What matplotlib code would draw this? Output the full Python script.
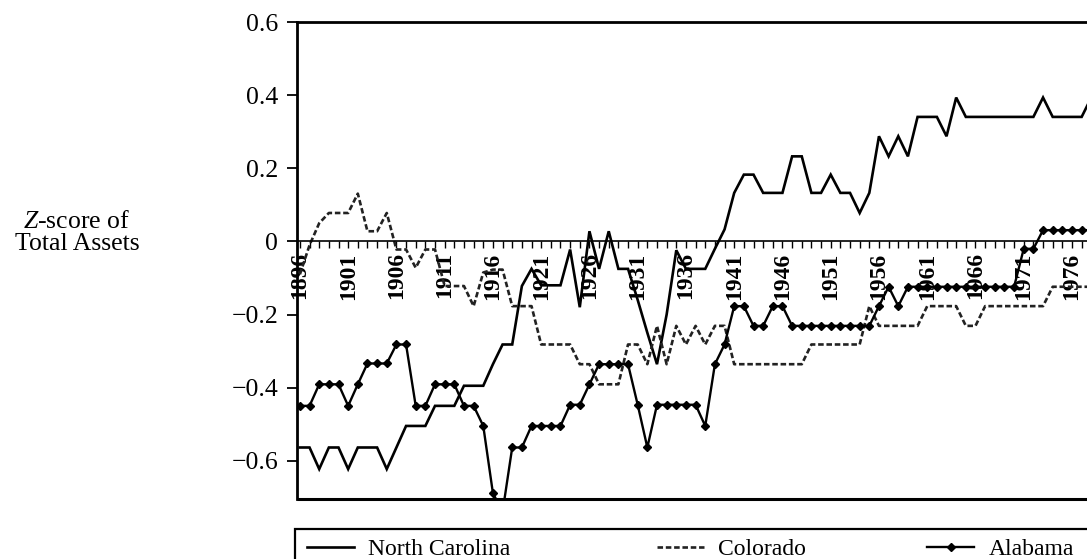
import matplotlib
matplotlib.use("Agg")
import matplotlib.pyplot as plt
import matplotlib.patches as mpatches
from matplotlib.ticker import FixedLocator, MultipleLocator

plt.rcParams['font.family'] = ['Liberation Serif', 'DejaVu Serif']
plt.rcParams['mathtext.fontset'] = 'custom'
plt.rcParams['mathtext.rm'] = 'Liberation Serif'
plt.rcParams['mathtext.it'] = 'Liberation Serif:italic'

# ---------------- data ----------------
years = list(range(1896, 1979))

north_carolina = [
    -0.564, -0.564, -0.623, -0.564, -0.564, -0.623, -0.564, -0.564, -0.564, -0.623,  # 1896-1905
    -0.564, -0.505, -0.505, -0.505, -0.450, -0.450, -0.450, -0.395, -0.395, -0.395,  # 1906-1915
    -0.336, -0.282, -0.282, -0.122, -0.075, -0.120, -0.120, -0.120, -0.022, -0.180,  # 1916-1925
    0.028, -0.075, 0.028, -0.075, -0.075, -0.160, -0.250, -0.336, -0.200, -0.024,    # 1926-1935
    -0.075, -0.075, -0.075, -0.020, 0.033, 0.133, 0.183, 0.183, 0.133, 0.133,        # 1936-1945
    0.133, 0.233, 0.233, 0.133, 0.133, 0.183, 0.133, 0.133, 0.078, 0.133,            # 1946-1955
    0.288, 0.233, 0.288, 0.233, 0.341, 0.341, 0.341, 0.288, 0.394, 0.341,            # 1956-1965
    0.341, 0.341, 0.341, 0.341, 0.341, 0.341, 0.341, 0.394, 0.341, 0.341,            # 1966-1975
    0.341, 0.341, 0.394,                                                             # 1976-1978
]

colorado = [
    -0.090, -0.010, 0.050, 0.078, 0.078, 0.078, 0.131, 0.028, 0.028, 0.078,          # 1896-1905
    -0.022, -0.022, -0.072, -0.022, -0.022, -0.122, -0.122, -0.122, -0.177, -0.085,  # 1906-1915
    -0.077, -0.077, -0.177, -0.177, -0.177, -0.282, -0.282, -0.282, -0.282, -0.336,  # 1916-1925
    -0.336, -0.391, -0.391, -0.391, -0.282, -0.282, -0.336, -0.231, -0.336, -0.231,  # 1926-1935
    -0.282, -0.231, -0.282, -0.231, -0.231, -0.336, -0.336, -0.336, -0.336, -0.336,  # 1936-1945
    -0.336, -0.336, -0.336, -0.282, -0.282, -0.282, -0.282, -0.282, -0.282, -0.177,  # 1946-1955
    -0.231, -0.231, -0.231, -0.231, -0.231, -0.177, -0.177, -0.177, -0.177, -0.231,  # 1956-1965
    -0.231, -0.177, -0.177, -0.177, -0.177, -0.177, -0.177, -0.177, -0.124, -0.124,  # 1966-1975
    -0.124, -0.124, -0.124,                                                          # 1976-1978
]

alabama = [
    -0.450, -0.450, -0.391, -0.391, -0.391, -0.450, -0.391, -0.334, -0.334, -0.334,  # 1896-1905
    -0.282, -0.282, -0.450, -0.450, -0.391, -0.391, -0.391, -0.450, -0.450, -0.505,  # 1906-1915
    -0.689, -0.740, -0.564, -0.564, -0.505, -0.505, -0.505, -0.505, -0.447, -0.447,  # 1916-1925
    -0.391, -0.336, -0.336, -0.336, -0.336, -0.447, -0.564, -0.447, -0.447, -0.447,  # 1926-1935
    -0.447, -0.447, -0.505, -0.336, -0.282, -0.177, -0.177, -0.231, -0.231, -0.177,  # 1936-1945
    -0.177, -0.231, -0.231, -0.231, -0.231, -0.231, -0.231, -0.231, -0.231, -0.231,  # 1946-1955
    -0.177, -0.124, -0.177, -0.124, -0.124, -0.124, -0.124, -0.124, -0.124, -0.124,  # 1956-1965
    -0.124, -0.124, -0.124, -0.124, -0.124, -0.020, -0.020, 0.031, 0.031, 0.031,     # 1966-1975
    0.031, 0.031, 0.031,                                                             # 1976-1978
]

series_labels = ["North Carolina", "Colorado", "Alabama"]
x_tick_years = list(range(1896, 1981, 5))
x_tick_labels = [str(y) for y in x_tick_years]
y_tick_values = [0.6, 0.4, 0.2, 0.0, -0.2, -0.4, -0.6]
y_tick_labels = ["0.6", "0.4", "0.2", "0", "\u22120.2", "\u22120.4", "\u22120.6"]
y_label = "$Z$-score of\nTotal Assets"

# ---------------- figure ----------------
W, H = 1087, 559
fig = plt.figure(figsize=(W / 100, H / 100), dpi=100)
ax_left, ax_right_px = 297, 1110.6
ax_top, ax_bottom = 22.3, 499
ax = fig.add_axes([ax_left / W, (H - ax_bottom) / H,
                   (ax_right_px - ax_left) / W, (ax_bottom - ax_top) / H])

l_nc, = ax.plot(years, north_carolina, color='black', lw=1.9, solid_joinstyle='miter')
l_co, = ax.plot(years, colorado, color='#222222', lw=1.9, linestyle=(0, (2.1, 1.05)))
l_al, = ax.plot(years, alabama, color='black', lw=1.7, marker='D', markersize=4.0,
                markerfacecolor='black', markeredgecolor='black')

ax.set_xlim(1895.7, 1980)
ax.set_ylim(-0.705, 0.6)

# spines: box on left/top/bottom, x axis drawn along zero
ax.spines['right'].set_visible(False)
for s in ('left', 'top'):
    ax.spines[s].set_linewidth(2.0)
ax.spines['bottom'].set_position(('data', 0))
ax.spines['bottom'].set_linewidth(1.2)
ax.plot([0, 1], [0, 0], transform=ax.transAxes, color='black', lw=2.2,
        clip_on=False, solid_capstyle='butt')

ax.yaxis.set_major_locator(FixedLocator(y_tick_values))
ax.set_yticks(y_tick_values, labels=y_tick_labels, fontsize=18.5)
ax.tick_params(axis='y', direction='out', length=7.5, width=1.3, pad=6)

ax.set_xticks(x_tick_years, labels=x_tick_labels, rotation=90,
              fontweight='bold', fontsize=17)
ax.xaxis.set_minor_locator(MultipleLocator(1))
ax.tick_params(axis='x', which='both', direction='out', length=4.8, width=1.0, pad=3)

ax.set_ylabel(y_label, rotation=0, fontsize=18.5, ha='center', va='center',
              linespacing=1.05)
ax.yaxis.set_label_coords((77 - ax_left) / (ax_right_px - ax_left),
                          (ax_bottom - 233) / (ax_bottom - ax_top))

# legend box extending past the figure edge
box = mpatches.Rectangle((295 / W, -0.3), 1.0, 0.3 + (H - 529) / H,
                         transform=fig.transFigure, fill=False, lw=1.6,
                         edgecolor='black', clip_on=False)
fig.add_artist(box)

handles = [l_nc, l_co, l_al]
starts = [307, 657, 927]
for h, lab, xs in zip(handles, series_labels, starts):
    fig.legend(handles=[h], labels=[lab], loc='center left',
               bbox_to_anchor=(xs / W, (H - 549) / H), bbox_transform=fig.transFigure,
               frameon=False, borderpad=0, borderaxespad=0, handlelength=2.0,
               handletextpad=0.6, fontsize=17, numpoints=1)

fig.savefig("out.png", dpi=100)
